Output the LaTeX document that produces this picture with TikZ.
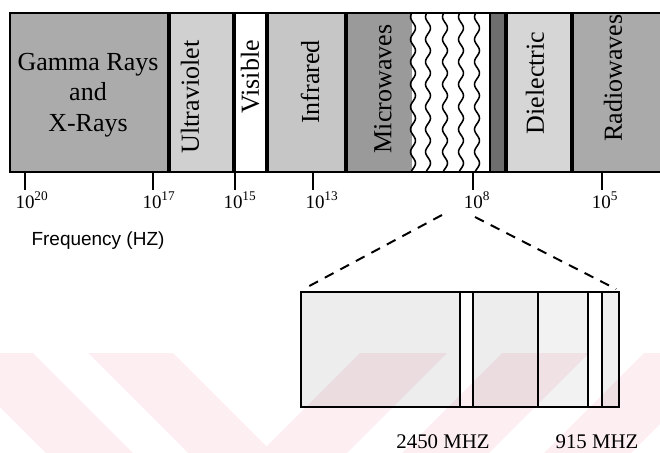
\documentclass[tikz,border=0pt]{standalone}
\usepackage{fontspec}
\setmainfont{Liberation Serif}
\newfontfamily\freqfont{Liberation Sans}
\usepackage{tikz}
\usetikzlibrary{positioning}
\definecolor{gammagray}{HTML}{ABABAB}
\definecolor{uvgray}{HTML}{D0D0D0}
\definecolor{irgray}{HTML}{C6C6C6}
\definecolor{microgray}{HTML}{9A9A9A}
\definecolor{narrowgray}{HTML}{6E6E6E}
\definecolor{dielgray}{HTML}{D6D6D6}
\definecolor{radiogray}{HTML}{AAAAAA}
\definecolor{markpink}{HTML}{FDEEF1}

\begin{document}
\begin{tikzpicture}[
  x=0.025cm, y=-0.025cm,
  bandlabel/.style={rotate=90, font=\fontsize{18.5}{21}\selectfont},
  ticklabel/.style={anchor=base, font=\fontsize{13.5}{16}\selectfont},
  mhzlabel/.style={anchor=base, font=\fontsize{14.8}{17}\selectfont},
  frame/.style={line width=1.6pt},
  divider/.style={line width=2.3pt},
  tickmark/.style={line width=1.5pt},
  wave/.style={line width=1.1pt},
  boxline/.style={line width=1.3pt},
  boxshade/.style={fill=black, fill opacity=0.07},
  zoomline/.style={line width=1.4pt, dash pattern=on 7pt off 5.5pt, shorten >=3pt}
]
\useasboundingbox (0,0) rectangle (660,453);

\fill[markpink] (0,353) -- (33,353) -- (133,453) -- (46,453) -- (0,407) -- cycle;
\fill[markpink] (88,353) -- (173,353) -- (266.5,446.5) -- (360,353) -- (447,353) -- (347,453) -- (188,453) -- cycle;
\fill[markpink] (502,353) -- (589,353) -- (489,453) -- (402,453) -- cycle;
\fill[markpink] (644,353) -- (660,353) -- (660,424) -- (631,453) -- (544,453) -- cycle;

\foreach \xa/\xb/\shade in {10/169/gammagray, 169/234/uvgray, 234/267/white,
    267/346/irgray, 346/412/microgray, 412/490/white, 490/506/narrowgray,
    506/572/dielgray, 572/660/radiogray}
  \fill[\shade] (\xa,13) rectangle (\xb,172);

\draw[frame] (660,13) -- (10,13) -- (10,172) -- (660,172);
\foreach \xd in {169,234,267,346,506,572}
  \draw[divider] (\xd,13) -- (\xd,172);
\draw[boxline] (490,13) -- (490,172);
\foreach \wx in {413,428,445,461,477}
  \draw[wave] plot[domain=13:172, samples=90] ({\wx+2.5*sin(16*\x)}, \x);

\node[font=\fontsize{18.5}{21.5}\selectfont, align=center] (gamma) at (88,95) {Gamma Rays\\and\\X-Rays};
\node[bandlabel] (uv) at (190,97) {Ultraviolet};
\node[bandlabel] (visible) at (250,77) {Visible};
\node[bandlabel] (infrared) at (310,82) {Infrared};
\node[bandlabel] (micro) at (383,89) {Microwaves};
\node[bandlabel] (dielectric) at (535,83) {Dielectric};
\node[bandlabel] (radio) at (613,78) {Radiowaves};

\foreach \tx/\lx/\ex in {25/32/20, 153/159/17, 235/240/15, 313/322/13, 473/477/8, 602/605/5} {
  \draw[tickmark] (\tx,172) -- (\tx,190);
  \node[ticklabel] (f\ex) at (\lx,208) {10\textsuperscript{\ex}};
}
\node[font=\freqfont\fontsize{13.5}{16}\selectfont] (freq) at (98,241) {Frequency (HZ)};

\fill[boxshade] (300,291) rectangle (460,406);
\fill[boxshade] (473,291) rectangle (538,406);
\fill[boxshade, fill opacity=0.05] (538,291) rectangle (588,406);
\fill[boxshade, fill opacity=0.06] (602,291) rectangle (618,406);
\foreach \bx in {460,473,538,588,602}
  \draw[boxline] (\bx,291) -- (\bx,406);
\node[draw, line width=1.3pt, inner sep=0pt, anchor=north west,
      minimum width=7.95cm, minimum height=2.875cm] (zoombox) at (300,291) {};

\coordinate (tipl) at (442,215);
\coordinate (tipr) at (475,217);
\draw[zoomline] (tipl) -- (zoombox.north west);
\draw[zoomline] (tipr) -- (zoombox.north east);

\node[mhzlabel] (m2450) at (443,448) {2450 MHZ};
\node[mhzlabel] (m915) at (597,448) {915 MHZ};

\end{tikzpicture}
\end{document}
